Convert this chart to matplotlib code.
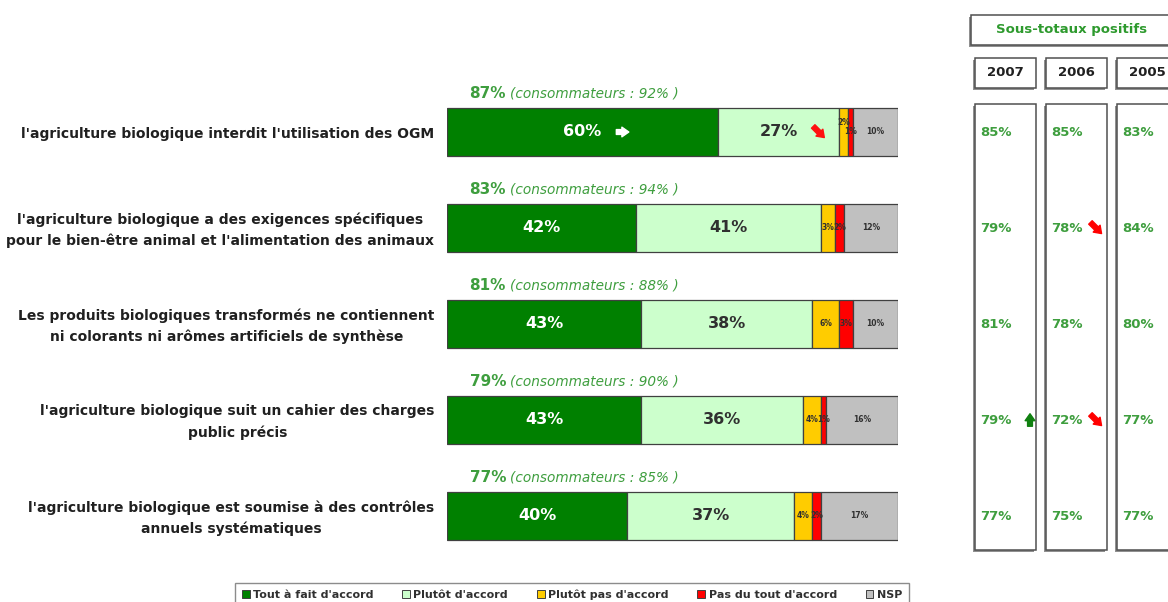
import matplotlib
matplotlib.use('Agg')
import matplotlib.pyplot as plt
from matplotlib.patches import Patch, Rectangle
from matplotlib.transforms import blended_transform_factory, offset_copy

plt.rcParams['font.family'] = ['DejaVu Sans']

# ── Data ───────────────────────────────────────────────────────────
categories = [
    "l'agriculture biologique interdit l'utilisation des OGM",
    "l'agriculture biologique a des exigences spécifiques\npour le bien-être animal et l'alimentation des animaux",
    "Les produits biologiques transformés ne contiennent\nni colorants ni arômes artificiels de synthèse",
    "l'agriculture biologique suit un cahier des charges\npublic précis",
    "l'agriculture biologique est soumise à des contrôles\nannuels systématiques",
]
tout_fait = [60, 42, 43, 43, 40]
plutot = [27, 41, 38, 36, 37]
plutot_pas = [2, 3, 6, 4, 4]
pas_du_tout = [1, 2, 3, 1, 2]
nsp = [10, 12, 10, 16, 17]
total_positif = [87, 83, 81, 79, 77]
consommateurs = [92, 94, 88, 90, 85]

series_names = ["Tout à fait d'accord", "Plutôt d'accord", "Plutôt pas d'accord",
                "Pas du tout d'accord", "NSP"]

years = ['2007', '2006', '2005']
st_2007 = [85, 79, 81, 79, 77]
st_2006 = [85, 78, 78, 72, 75]
st_2005 = [83, 84, 80, 77, 77]

# evolution markers
col_arrows = [(0, 3, 'up'), (1, 1, 'down'), (1, 3, 'down')]   # (year idx, row, kind)
bar_arrows = [(0, 0, 'up'), (1, 0, 'down')]                   # (series idx, row, kind)

# ── Style ──────────────────────────────────────────────────────────
COLORS = ['#008000', '#CCFFCC', '#FFCC00', '#FF0000', '#C0C0C0']
EDGE = '#404040'
GREEN_TXT = '#3E9E3E'
TXT = '#202020'
W, H = 1168, 602

fig = plt.figure(figsize=(W / 100, H / 100), dpi=100)
fig.patch.set_facecolor('white')

over = fig.add_axes([0, 0, 1, 1])
over.set_xlim(0, W)
over.set_ylim(H, 0)
over.axis('off')

ax = fig.add_axes([447 / W, 1 - 564 / H, 451 / W, 480 / H])
ax.set_xlim(0, 100)
ax.set_ylim(len(categories) - 0.5, -0.5)
ax.axis('off')


def draw_arrow(axes, trans, x, y, kind, color):
    # small thick arrow drawn around (x, y) in the given transform
    if kind == 'up':
        s, e = (0, -4.5), (0, 4.5)
    elif kind == 'right':
        s, e = (-4.5, 0), (4.5, 0)
    else:
        s, e = (-4, 4), (4, -4)
    t_end = offset_copy(trans, fig=fig, x=e[0], y=e[1], units='points')
    t_start = offset_copy(trans, fig=fig, x=s[0], y=s[1], units='points')
    axes.annotate('', xy=(x, y), xycoords=t_end, xytext=(x, y), textcoords=t_start,
                  arrowprops=dict(arrowstyle='simple,head_length=0.5,head_width=0.7,tail_width=0.35',
                                  color=color, shrinkA=0, shrinkB=0), zorder=6)


series = [tout_fait, plutot, plutot_pas, pas_du_tout, nsp]
rows = list(range(len(categories)))
left = [0] * len(categories)
cum = []
for k, vals in enumerate(series):
    cum.append(list(left))
    ax.barh(rows, vals, left=left, height=0.5, color=COLORS[k],
            edgecolor=EDGE, linewidth=0.9, zorder=2)
    for i, v in enumerate(vals):
        cx = left[i] + v / 2
        if k < 2:
            ax.text(cx, i, f"{v}%", ha='center', va='center', fontsize=11.5,
                    fontweight='bold', color='white' if k == 0 else '#303030', zorder=4)
        else:
            dy = -0.1 if (k == 2 and i == 0) else 0
            ax.text(cx, i + dy, f"{v}%", ha='center', va='center', fontsize=5.5,
                    fontweight='bold', color='#303030', zorder=4)
    left = [l + v for l, v in zip(left, vals)]

for k, i, kind in bar_arrows:
    cx = cum[k][i] + series[k][i] / 2
    tr = offset_copy(ax.transData, fig=fig, x=29, y=0, units='points')
    if kind == 'up':
        draw_arrow(ax, tr, cx, i, 'right', 'white')
    else:
        draw_arrow(ax, tr, cx, i, 'down', '#FF1010')

for i, cat in enumerate(categories):
    ax.text(5, i - 0.4, f"{total_positif[i]}%", ha='left', va='center',
            fontsize=11, fontweight='bold', color=GREEN_TXT)
    ax.text(14, i - 0.4, f"(consommateurs : {consommateurs[i]}% )", ha='left',
            va='center', fontsize=9.8, fontstyle='italic', color=GREEN_TXT)
    ax.annotate(cat, (0, i), xytext=(-9, -1.5), textcoords='offset points',
                ha='right', va='center', multialignment='center',
                fontsize=10, fontweight='bold', color=TXT, linespacing=1.6)


# ── Right panel: Sous-totaux positifs ─────────────────────────────
def frame(x0, y0, x1, y1):
    over.add_patch(Rectangle((x0 - 2, y0 + 2), x1 - x0, y1 - y0, facecolor='#909090',
                             edgecolor='none', zorder=1))
    over.add_patch(Rectangle((x0, y0), x1 - x0, y1 - y0, facecolor='white',
                             edgecolor='#505050', linewidth=1.1, zorder=2))


frame(971, 15, 1175, 45)
over.text(1072, 30, "Sous-totaux positifs", ha='center', va='center', fontsize=9.5,
          fontweight='bold', color='#2E9A2E', zorder=3)

col_x = [975, 1046, 1117]
for j, yr in enumerate(years):
    frame(col_x[j], 58, col_x[j] + 61, 88)
    over.text(col_x[j] + 30.5, 73, yr, ha='center', va='center', fontsize=9.5,
              fontweight='bold', color=TXT, zorder=3)
    frame(col_x[j], 104, col_x[j] + 61, 550)

mixed = blended_transform_factory(over.transData, ax.transData)
for j, vals in enumerate([st_2007, st_2006, st_2005]):
    for i, v in enumerate(vals):
        over.text(col_x[j] + 5, i, f"{v}%", transform=mixed, ha='left',
                  va='center', fontsize=9.5, fontweight='bold', color=GREEN_TXT, zorder=3)
for j, i, kind in col_arrows:
    if kind == 'up':
        draw_arrow(over, mixed, col_x[j] + 55, i, 'up', '#108010')
    else:
        draw_arrow(over, mixed, col_x[j] + 50, i, 'down', '#FF0000')

# ── Legend ────────────────────────────────────────────────────────
handles = [Patch(facecolor=c, edgecolor='#404040', linewidth=0.7, label=n)
           for c, n in zip(COLORS, series_names)]
leg = fig.legend(handles=handles, loc='upper center', ncol=5,
                 bbox_to_anchor=(572 / W, 1 - 577 / H), fontsize=8,
                 frameon=True, fancybox=False, edgecolor='#707070',
                 handlelength=0.7, handleheight=0.7, handletextpad=0.3,
                 columnspacing=2.6, borderpad=0.6)
leg.get_frame().set_linewidth(1.0)
for t in leg.get_texts():
    t.set_color('#303030')
    t.set_fontweight('bold')

fig.savefig('out.png', dpi=100, facecolor='white')
